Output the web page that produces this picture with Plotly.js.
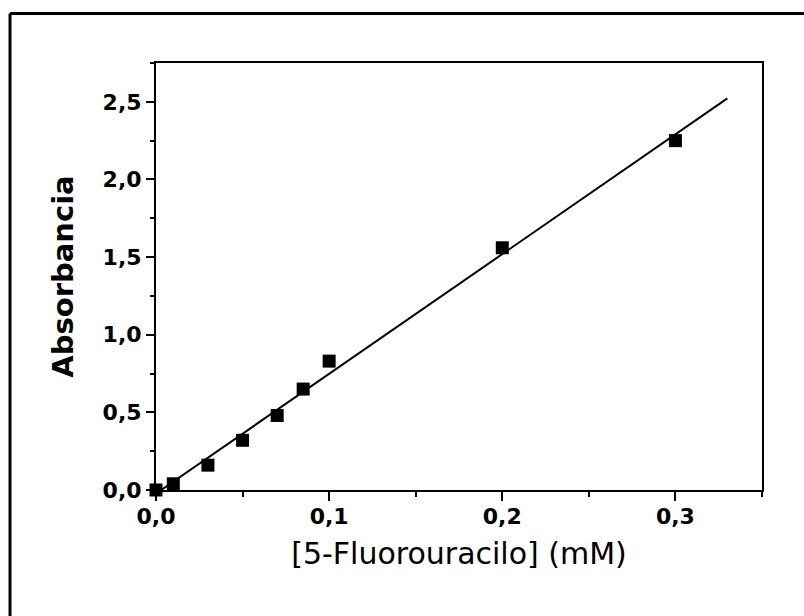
<!DOCTYPE html>
<html>
<head>
<meta charset="utf-8">
<script src="https://cdn.plot.ly/plotly-3.0.1.min.js"></script>
<style>html,body{margin:0;padding:0;background:#fff;}</style>
</head>
<body>
<div id="chart" style="width:804px;height:616px;"></div>
<script>
// Data
var concentration = [0, 0.01, 0.03, 0.05, 0.07, 0.085, 0.1, 0.2, 0.3];
var absorbance    = [0, 0.04, 0.16, 0.32, 0.48, 0.65, 0.83, 1.56, 2.25];
var fitX = [0.003, 0.33];
var fitY = [0.0, 2.522];
var xTitle = '[5-Fluorouracilo] (mM)';
var yTitle = 'Absorbancia';

var tickFont = {family: 'DejaVu Sans', size: 22, color: '#000', weight: 'bold'};

var traces = [
  {x: fitX, y: fitY, mode: 'lines', type: 'scatter',
   line: {color: '#000', width: 2}, hoverinfo: 'skip', showlegend: false},
  {x: concentration, y: absorbance, mode: 'markers', type: 'scatter',
   marker: {symbol: 'square', size: 13, color: '#000'}, cliponaxis: false, showlegend: false}
];

var layout = {
  width: 804, height: 616,
  margin: {l: 156, r: 42, t: 63, b: 126},
  paper_bgcolor: '#fff', plot_bgcolor: '#fff',
  separators: ',.',
  showlegend: false,
  xaxis: {
    range: [0, 0.35], dtick: 0.1, tick0: 0, tickformat: '.1f',
    showgrid: false, zeroline: false,
    showline: true, mirror: true, linecolor: '#000', linewidth: 2,
    ticks: 'outside', ticklen: 9, tickwidth: 2, tickcolor: '#000',
    ticklabelstandoff: -3,
    minor: {dtick: 0.05, ticks: 'outside', ticklen: 5, tickwidth: 2, tickcolor: '#000', showgrid: false},
    tickfont: tickFont,
    title: {text: xTitle, font: {family: 'DejaVu Sans', size: 30, color: '#000', weight: 500}, standoff: 15},
    automargin: false
  },
  yaxis: {
    range: [0, 2.75], dtick: 0.5, tick0: 0, tickformat: '.1f',
    showgrid: false, zeroline: false,
    showline: true, mirror: true, linecolor: '#000', linewidth: 2,
    ticks: 'outside', ticklen: 8, tickwidth: 2, tickcolor: '#000',
    minor: {dtick: 0.25, ticks: 'outside', ticklen: 4, tickwidth: 2, tickcolor: '#000', showgrid: false},
    tickfont: tickFont,
    title: {text: yTitle, font: {family: 'DejaVu Sans', size: 29, color: '#000', weight: 'bold'}, standoff: 20},
    automargin: false
  },
  shapes: [
    {type: 'line', xref: 'paper', yref: 'paper', x0: -0.2409, x1: -0.2409, y0: 1.116, y1: -0.6,
     line: {color: '#000', width: 3}},
    {type: 'line', xref: 'paper', yref: 'paper', x0: -0.2409, x1: 1.2, y0: 1.116, y1: 1.116,
     line: {color: '#000', width: 3}}
  ]
};

Plotly.newPlot('chart', traces, layout, {displayModeBar: false, staticPlot: true});
</script>
</body>
</html>
